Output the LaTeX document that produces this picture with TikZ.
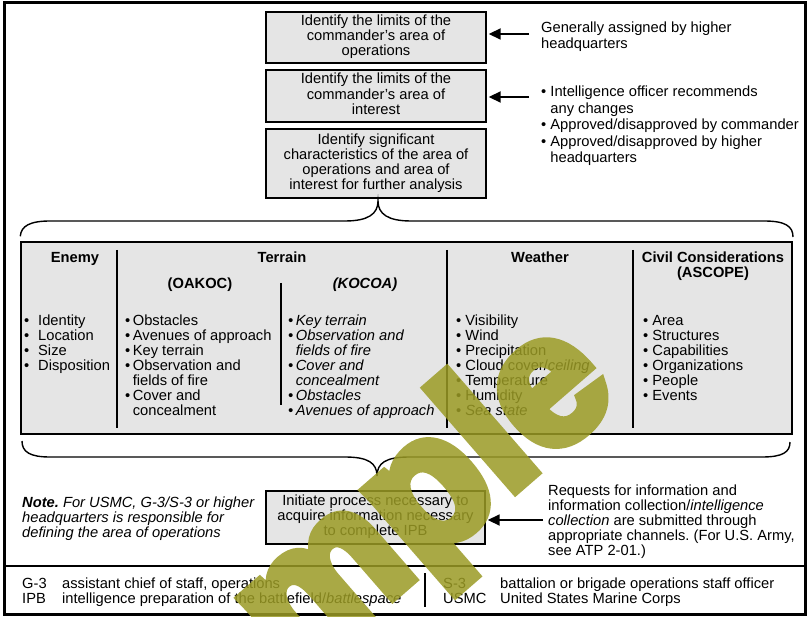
\documentclass[tikz,border=0pt]{standalone}
\usepackage{fontspec}
\setmainfont{Liberation Sans}
\newfontfamily\wmfont{Liberation Sans}[FakeBold=6]
\usetikzlibrary{arrows.meta}
\definecolor{boxgray}{RGB}{229,229,229}
\definecolor{wmark}{RGB}{155,155,37}
% body text size: 14.7pt on a 15pt line
\newcommand\fs{\fontsize{14.7}{15}\selectfont}
\newcommand\bul{\textbullet\ }
\newcommand\tbul{\textbullet\hspace{2.5pt}}
\newcommand\wbul{\makebox[15pt][l]{\hspace{1pt}\textbullet}}
% stacked rows; [t] keeps the first row on the node baseline
\newcommand\rowsL[1]{\begin{tabular}[t]{@{}l@{}}#1\end{tabular}}
\newcommand\rowsC[1]{\begin{tabular}{@{}c@{}}#1\end{tabular}}
\newcommand\rowsCt[1]{\begin{tabular}[t]{@{}c@{}}#1\end{tabular}}
\frenchspacing
\begin{document}
\begin{tikzpicture}[x=1pt,y=-1pt,
  every node/.style={font=\fs, inner sep=0pt},
  stepbox/.style={draw, line width=1.4pt, fill=boxgray, minimum width=220pt, align=center},
  hdr/.style={anchor=base, font=\fs\bfseries},
  lst/.style={anchor=base west},
  divider/.style={line width=1.4pt},
  brace/.style={line width=1.4pt},
  arr/.style={line width=1.8pt, -{Triangle[length=12pt,width=11pt]}, shorten >=2pt}]
\useasboundingbox (0,0) rectangle (810,617);
\fill[white] (0,0) rectangle (810,617);

% outer frame and legend separator
\draw[line width=3pt] (4.5,2.5) rectangle (805.5,614.5);
\draw[line width=1.4pt] (4,566) -- (806,566);

% process steps
\node[stepbox, minimum height=51pt] (b1) at (376,37.5) {\raisebox{-1.5pt}{\rowsC{Identify the limits of the\\commander’s area of\\operations}}};
\node[stepbox, minimum height=52pt] (b2) at (376,96) {\raisebox{-1.5pt}{\rowsC{Identify the limits of the\\commander’s area of\\interest}}};
\node[stepbox, minimum height=69pt, font=\fontsize{14.7}{14.4}\selectfont] (b3) at (376,163.5) {\raisebox{-3pt}{\rowsC{Identify significant\\characteristics of the area of\\operations and area of\\interest for further analysis}}};
\node[stepbox, minimum width=219pt, minimum height=53pt] (b4) at (375.5,517.5) {\rowsC{Initiate process necessary to\\acquire information necessary\\to complete IPB}};

% side remarks with arrows
\node[lst] (n1) at (541,33) {\rowsL{Generally assigned by higher\\headquarters}};
\node[lst, font=\fontsize{14.7}{16.5}\selectfont] (n2) at (541,97) {\rowsL{\bul Intelligence officer recommends\\\hphantom{\bul}any changes\\\bul Approved/disapproved by commander\\\bul Approved/disapproved by higher\\\hphantom{\bul}headquarters}};
\coordinate (t1) at (529,34);
\coordinate (t2) at (529,97);
\coordinate (t4) at (543,520);
\draw[arr] (t1) -- (t1 -| b1.east);
\draw[arr] (t2) -- (t2 -| b2.east);
\draw[arr] (t4) -- (t4 -| b4.east);

% characteristics table
\node[draw, fill=boxgray, line width=1.4pt, minimum width=771pt, minimum height=192pt] (grid) at (406.5,338) {};
\draw[divider] (117,250) -- (117,428);
\draw[divider] (281,283) -- (281,405);
\draw[divider] (447,250) -- (447,428);
\draw[divider] (633,250) -- (633,428);

\node[hdr] (hE) at (75,262) {Enemy};
\node[hdr] (hT) at (282,262) {Terrain};
\node[hdr] (hO) at (200,288) {(OAKOC)};
\node[hdr, font=\fs\bfseries\itshape] (hK) at (365,288) {(KOCOA)};
\node[hdr] (hW) at (540,262) {Weather};
\node[hdr, font=\fontsize{14.7}{16}\selectfont\bfseries] (hC) at (713,262) {\rowsCt{Civil Considerations\\(ASCOPE)}};

\node[lst] (le) at (23,325) {\rowsL{\wbul Identity\\\wbul Location\\\wbul Size\\\wbul Disposition}};
\node[lst] (lo) at (125,325) {\rowsL{\tbul Obstacles\\\tbul Avenues of approach\\\tbul Key terrain\\\tbul Observation and\\\hphantom{\tbul}fields of fire\\\tbul Cover and\\\hphantom{\tbul}concealment}};
\node[lst, font=\fs\itshape] (lk) at (288,325) {\rowsL{\tbul Key terrain\\\tbul Observation and\\\hphantom{\tbul}fields of fire\\\tbul Cover and\\\hphantom{\tbul}concealment\\\tbul Obstacles\\\tbul Avenues of approach}};
\node[lst] (lw) at (456,325) {\rowsL{\bul Visibility\\\bul Wind\\\bul Precipitation\\\bul Cloud cover/\textit{ceiling}\\\bul Temperature\\\bul Humidity\\\bul\textit{Sea state}}};
\node[lst] (lc) at (643,325) {\rowsL{\bul Area\\\bul Structures\\\bul Capabilities\\\bul Organizations\\\bul People\\\bul Events}};

% braces gathering the table
\coordinate (tipU) at (378,201);
\coordinate (tipD) at (377,476);
\draw[brace] (grid.north west) ++(0,-5) .. controls (21,226) and (30,221) .. (50,221) -- (345,221)
  .. controls (368,221) and (378,214) .. (tipU)
  .. controls (378,214) and (388,221) .. (411,221) -- (764,221)
  .. controls (785,221) and (793,226) .. (793,237);
\draw[brace] (22,441) .. controls (22,452) and (30,457) .. (50,457) -- (345,457)
  .. controls (368,457) and (377,463) .. (tipD)
  .. controls (377,463) and (386,457) .. (409,457) -- (762,457)
  .. controls (783,457) and (790,452) .. (790,442);

% notes beside the last step
\node[lst, font=\fs\itshape] (note) at (22,507) {\rowsL{\textbf{Note.} For USMC, G-3/S-3 or higher\\headquarters is responsible for\\defining the area of operations}};
\node[lst] (req) at (548,495) {\rowsL{Requests for information and\\information collection/\textit{intelligence}\\\textit{collection} are submitted through\\appropriate channels. (For U.S. Army,\\see ATP 2-01.)}};

% legend
\node[lst] (g3) at (22,588) {G-3};
\node[lst] (g3d) at (62,588) {assistant chief of staff, operations};
\node[lst] (ipb) at (22,603) {IPB};
\node[lst] (ipbd) at (62,603) {intelligence preparation of the battlefield/\textit{battlespace}};
\draw[divider] (425,573) -- (425,607);
\node[lst] (s3) at (443,588) {S-3};
\node[lst] (s3d) at (500,588) {battalion or brigade operations staff officer};
\node[lst] (usmc) at (443,603) {USMC};
\node[lst] (usmcd) at (500,603) {United States Marine Corps};

% watermark, composited as one translucent layer
\begin{scope}[transparency group, opacity=0.85]
\clip (0,0) rectangle (810,617);
\node[rotate=41, anchor=base west, text=wmark,
  font=\fontsize{185}{185}\wmfont\bfseries] (wm) at (141,815) {sample};
\end{scope}
\end{tikzpicture}
\end{document}
